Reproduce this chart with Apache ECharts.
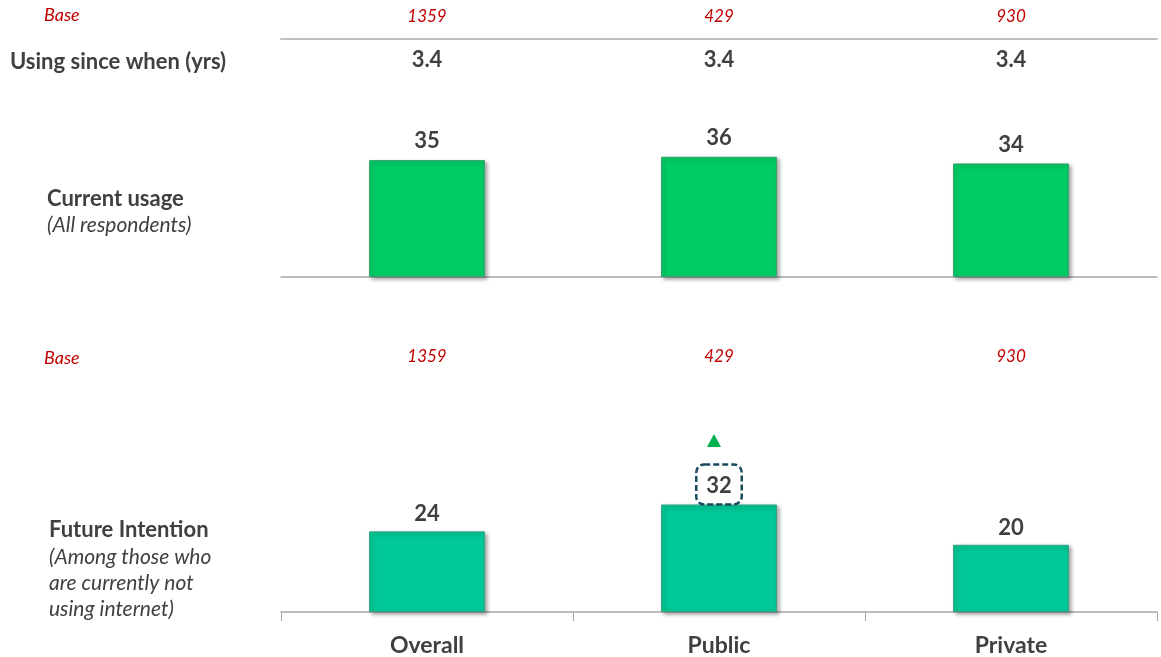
<!DOCTYPE html>
<html><head><meta charset="utf-8">
<script src="https://cdn.jsdelivr.net/npm/echarts@6/dist/echarts.min.js"></script>
<style>html,body{margin:0;padding:0;background:#fff}#c{width:1161px;height:657px}</style>
</head><body><div id="c"></div>
<script>
const categories = ['Overall', 'Public', 'Private'];
const baseCounts = ['1359', '429', '930'];
const usingSince = ['3.4', '3.4', '3.4'];
const currentUsage = [35, 36, 34];
const baseCounts2 = ['1359', '429', '930'];
const futureIntention = [24, 32, 20];
const highlightIndex = 1; // significantly higher (dashed box + up arrow)

const FONT = 'Lato, "Open Sans", sans-serif';
const DARK = '#404040';
const RED = '#C00000';

const chart = echarts.init(document.getElementById('c'));

const futureData = futureIntention.map((v, i) => i === highlightIndex ? {
  value: v,
  label: {
    distance: 0,
    borderColor: '#1A4A5E', borderWidth: 2.5, borderType: [6, 3], borderRadius: 8,
    padding: [10, 10, 8, 10], lineHeight: 22
  }
} : v);

chart.setOption({
  animation: false,
  textStyle: { fontFamily: FONT },
  grid: [
    { left: 281, width: 876, top: 110, height: 167 },
    { left: 281, width: 876, top: 444, height: 169 }
  ],
  graphic: [
    { type: 'text', left: 44, top: 6, style: { text: 'Base', font: 'italic 18px ' + FONT, fill: RED } },
    { type: 'text', left: 10, top: 51, style: { text: 'Using since when (yrs)', font: 'bold 22px ' + FONT, fill: DARK } },
    { type: 'text', left: 47, top: 188, style: { text: 'Current usage', font: 'bold 22px ' + FONT, fill: DARK } },
    { type: 'text', left: 47, top: 215, style: { text: '(All respondents)', font: 'italic 21px ' + FONT, fill: DARK } },
    { type: 'text', left: 44, top: 349, style: { text: 'Base', font: 'italic 18px ' + FONT, fill: RED } },
    { type: 'text', left: 49, top: 519, style: { text: 'Future Intention', font: 'bold 22px ' + FONT, fill: DARK } },
    { type: 'text', left: 49, top: 544, style: { text: '(Among those who\nare currently not\nusing internet)', font: 'italic 21px ' + FONT, fill: DARK, lineHeight: 26 } }
  ],
  xAxis: [
    { gridIndex: 0, type: 'category', data: categories, position: 'bottom',
      axisLine: { lineStyle: { color: '#A6A6A6', width: 1.5 } }, axisTick: { show: false }, axisLabel: { show: false } },
    { gridIndex: 0, type: 'category', data: baseCounts, position: 'top', offset: 71,
      axisLine: { onZero: false, lineStyle: { color: '#BFBFBF', width: 2 } }, axisTick: { show: false },
      axisLabel: { margin: 14, color: RED, fontStyle: 'italic', fontSize: 17 } },
    { gridIndex: 0, type: 'category', data: usingSince, position: 'top', offset: 71,
      axisLine: { show: false }, axisTick: { show: false },
      axisLabel: { inside: true, margin: 10, color: DARK, fontWeight: 'bold', fontSize: 22 } },
    { gridIndex: 1, type: 'category', data: categories, position: 'bottom',
      axisLine: { lineStyle: { color: '#A6A6A6', width: 1.5 } },
      axisTick: { show: true, length: 9, lineStyle: { color: '#A6A6A6' } },
      axisLabel: { margin: 22, color: DARK, fontWeight: 'bold', fontSize: 23 } },
    { gridIndex: 1, type: 'category', data: baseCounts2, position: 'top',
      axisLine: { show: false }, axisTick: { show: false },
      axisLabel: { margin: 79, color: RED, fontStyle: 'italic', fontSize: 17 } }
  ],
  yAxis: [
    { gridIndex: 0, type: 'value', min: 0, max: 50, show: false },
    { gridIndex: 1, type: 'value', min: 0, max: 50, show: false }
  ],
  series: [
    { type: 'bar', xAxisIndex: 0, yAxisIndex: 0, data: currentUsage, barWidth: 116,
      itemStyle: { color: '#00CC66', borderColor: '#3AA36A', borderWidth: 1,
        shadowColor: 'rgba(0,0,0,0.35)', shadowBlur: 4, shadowOffsetX: 2, shadowOffsetY: 2 },
      label: { show: true, position: 'top', distance: 8, color: DARK, fontWeight: 'bold', fontSize: 22, fontFamily: FONT } },
    { type: 'bar', xAxisIndex: 3, yAxisIndex: 1, data: futureData, barWidth: 116,
      itemStyle: { color: '#00C896', borderColor: '#3AA386', borderWidth: 1,
        shadowColor: 'rgba(0,0,0,0.35)', shadowBlur: 4, shadowOffsetX: 2, shadowOffsetY: 2 },
      label: { show: true, position: 'top', distance: 6, color: DARK, fontWeight: 'bold', fontSize: 22, fontFamily: FONT },
      markPoint: {
        symbol: 'triangle', symbolSize: [14, 13], label: { show: false },
        itemStyle: { color: '#00B050', shadowBlur: 0 },
        data: [{ coord: [categories[highlightIndex], futureIntention[highlightIndex]], symbolOffset: [-5, -64] }]
      } }
  ]
});
</script></body></html>
